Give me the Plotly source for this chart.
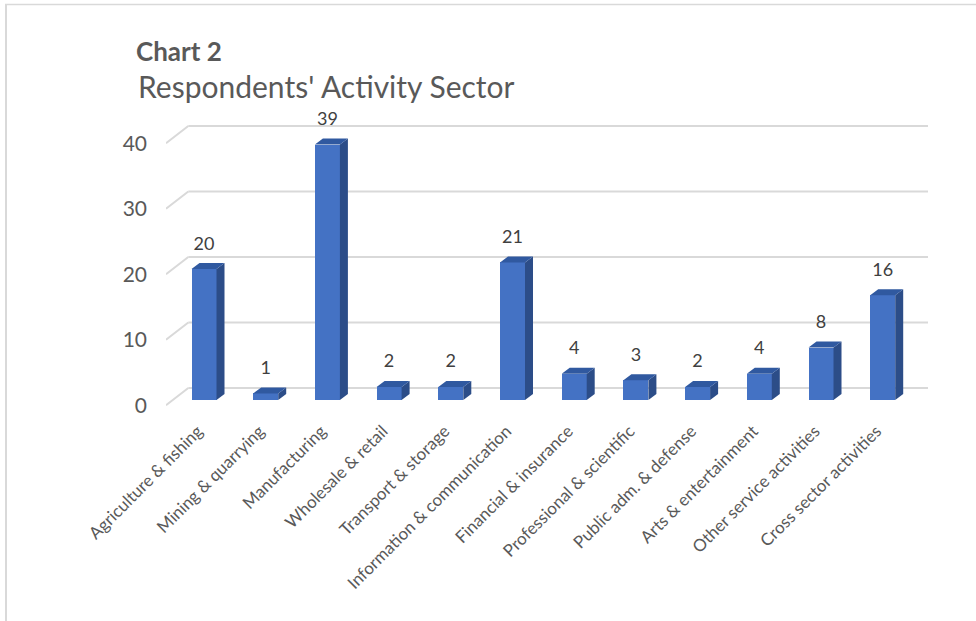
import plotly.graph_objects as go

categories = ["Agriculture & fishing", "Mining & quarrying", "Manufacturing",
              "Wholesale & retail", "Transport & storage", "Information & communication",
              "Financial & insurance", "Professional & scientific", "Public adm. & defense",
              "Arts & entertainment", "Other service activities", "Cross sector activities"]
values = [20, 1, 39, 2, 2, 21, 4, 3, 2, 4, 8, 16]
y_ticks = [0, 10, 20, 30, 40]

W, H = 976, 621
# pixel geometry of plot area
PL, PR, PT, PB = 166, 965, 100, 410
X0PX, XSTEP = 204.0, 61.7      # pixel of category 0, pixels per category
Y0PX, YSTEP = 405.3, 6.55      # pixel of value 0 at front floor edge, pixels per unit

xr = [(PL - X0PX) / XSTEP, (PR - X0PX) / XSTEP]
yr = [(Y0PX - PB) / YSTEP, (Y0PX - PT) / YSTEP]

def ux(px):  # pixel length -> x data units
    return px / XSTEP

def uy(px):
    return px / YSTEP

BACK_DX, BACK_DY = ux(22.3), uy(17.3)
BASE = uy(5.3)
BAR_W = ux(25)
DEP_DX, DEP_DY = ux(8), uy(6)
GRID_RIGHT = (928 - X0PX) / XSTEP

def ppx(px):
    return (px - PL) / (PR - PL)

def ppy(py):
    return (PB - py) / (PB - PT)

fig = go.Figure()

# gridlines (floor edge diagonals + back wall)
shapes = []
for t in y_ticks:
    shapes.append(dict(type="line", xref="x", yref="y", layer="below",
                       x0=xr[0], y0=t, x1=xr[0] + BACK_DX, y1=t + BACK_DY,
                       line=dict(color="#d9d9d9", width=2)))
    shapes.append(dict(type="line", xref="x", yref="y", layer="below",
                       x0=xr[0] + BACK_DX, y0=t + BACK_DY, x1=GRID_RIGHT, y1=t + BACK_DY,
                       line=dict(color="#d9d9d9", width=2)))
# border
shapes.append(dict(type="line", xref="paper", yref="paper",
                   x0=ppx(6), y0=ppy(4.5), x1=ppx(6), y1=ppy(621),
                   line=dict(color="#d9d9d9", width=2)))
shapes.append(dict(type="line", xref="paper", yref="paper",
                   x0=ppx(5), y0=ppy(4.5), x1=ppx(976), y1=ppy(4.5),
                   line=dict(color="#d9d9d9", width=1.5)))

idx = list(range(len(categories)))

# front faces
fig.add_trace(go.Bar(x=idx, y=values, base=[BASE] * len(values), width=BAR_W,
                     marker=dict(color="#4472C4", line=dict(width=0)),
                     hoverinfo="skip", showlegend=False))

# side faces
sx, sy = [], []
for i, v in zip(idx, values):
    r = i + BAR_W / 2
    sx += [r, r + DEP_DX, r + DEP_DX, r, r, None]
    sy += [BASE, BASE + DEP_DY, BASE + v + DEP_DY, BASE + v, BASE, None]
fig.add_trace(go.Scatter(x=sx, y=sy, mode="lines", fill="toself",
                         fillcolor="#2C4D88", line=dict(width=0, color="#2C4D88"),
                         hoverinfo="skip", showlegend=False))
# top faces
tx, ty = [], []
for i, v in zip(idx, values):
    l, r = i - BAR_W / 2, i + BAR_W / 2
    tx += [l, l + DEP_DX, r + DEP_DX, r, l, None]
    ty += [BASE + v, BASE + v + DEP_DY, BASE + v + DEP_DY, BASE + v, BASE + v, None]
fig.add_trace(go.Scatter(x=tx, y=ty, mode="lines", fill="toself",
                         fillcolor="#3059A0", line=dict(width=0, color="#3059A0"),
                         hoverinfo="skip", showlegend=False))

# data labels
fig.add_trace(go.Scatter(x=idx, y=[v + BASE + uy(24) for v in values],
                         mode="text", text=[str(v) for v in values],
                         textposition="middle center",
                         textfont=dict(family="Lato", size=18, color="#404040"),
                         hoverinfo="skip", showlegend=False))

annotations = [
    dict(text="<b>Chart 2</b>", xref="paper", yref="paper", x=ppx(134), y=ppy(50.5),
         xanchor="left", yanchor="middle", showarrow=False,
         font=dict(family="Lato", size=26, color="#595959")),
    dict(text="Respondents' Activity Sector", xref="paper", yref="paper",
         x=ppx(136), y=ppy(86), xanchor="left", yanchor="middle", showarrow=False,
         font=dict(family="Lato", size=30, color="#595959")),
]

fig.update_layout(
    width=W, height=H, autosize=False,
    margin=dict(l=PL, r=W - PR, t=PT, b=H - PB, pad=0),
    paper_bgcolor="white", plot_bgcolor="white",
    shapes=shapes, annotations=annotations,
    bargap=0,
    xaxis=dict(range=xr, tickmode="array", tickvals=[i - 0.1 for i in idx],
               ticktext=categories,
               tickangle=-45, showgrid=False, zeroline=False, showline=False,
               ticks="", ticklabelstandoff=7,
               tickfont=dict(family="Lato", size=17, color="#595959"),
               fixedrange=True),
    yaxis=dict(range=yr, tickmode="array", tickvals=y_ticks,
               ticktext=[str(t) for t in y_ticks], showgrid=False, zeroline=False,
               showline=False, ticks="", ticklabelstandoff=18,
               tickfont=dict(family="Lato", size=21, color="#595959"),
               fixedrange=True),
)

fig.write_html("out.html", config={"displayModeBar": False},
               post_script="document.body.style.margin='0';document.body.style.overflow='hidden';")
